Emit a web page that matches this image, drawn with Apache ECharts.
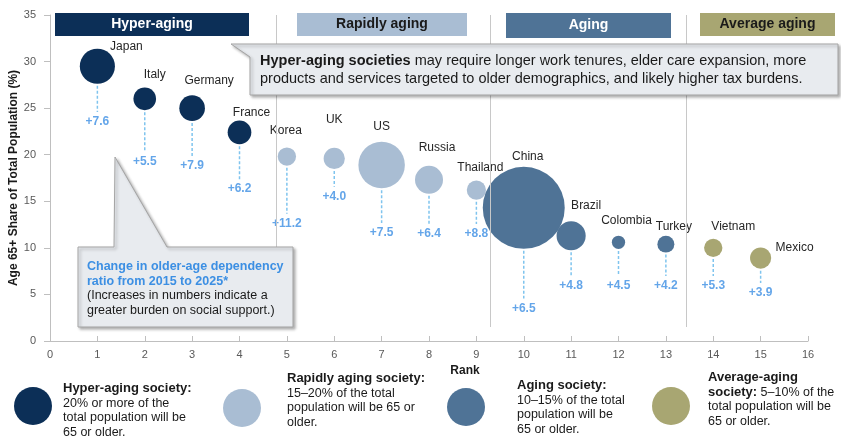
<!DOCTYPE html>
<html>
<head>
<meta charset="UTF-8">
<title>Aging societies</title>
<script src="https://cdn.jsdelivr.net/npm/echarts@6/dist/echarts.min.js"></script>
<style>
  html, body { margin: 0; padding: 0; background: #fff; }
  #chart { width: 841px; height: 438px; }
</style>
</head>
<body>
<div id="chart"></div>
<script>
// data
var countries = ['Japan', 'Italy', 'Germany', 'France', 'Korea', 'UK', 'US', 'Russia', 'Thailand',
                 'China', 'Brazil', 'Colombia', 'Turkey', 'Vietnam', 'Mexico'];
var rank = [1, 2, 3, 4, 5, 6, 7, 8, 9, 10, 11, 12, 13, 14, 15];
var share65 = [29.5, 26.0, 25.0, 22.4, 19.8, 19.6, 18.9, 17.3, 16.2, 14.3, 11.3, 10.6, 10.4, 10.0, 8.9];
var bubbleValue = [77, 32, 41, 35, 21, 28, 135, 49, 23, 420, 53, 11, 18, 21, 28]; // relative population
var ratioChange = [7.6, 5.5, 7.9, 6.2, 11.2, 4.0, 7.5, 6.4, 8.8, 6.5, 4.8, 4.5, 4.2, 5.3, 3.9];
var group = [0, 0, 0, 0, 1, 1, 1, 1, 1, 2, 2, 2, 2, 3, 3];
var groupNames = ['Hyper-aging', 'Rapidly aging', 'Aging', 'Average aging'];
var groupBreaks = [4.78, 9.3, 13.42];

// layout only
var groupColors = ['#0c2f57', '#a9bdd3', '#4f7396', '#a8a672'];
var nameOffset = [[29, -20], [10, -24], [17, -27], [12, -20], [-1, -26], [0, -39], [0, -38], [8, -32],
                  [4, -22], [4, -51], [15, -30], [8, -22], [8, -17], [20, -21], [34, -10]];
var deltaAt = [23.5, 19.2, 18.8, 16.3, 12.6, 15.5, 11.6, 11.5, 11.5, 3.5, 5.9, 5.9, 5.9, 5.9, 5.15];
var FONT = '"Liberation Sans", Arial, sans-serif';
var BLUE = '#3c8fe3';

function diam(v) { return Math.sqrt(v) * 4; }

var chart = echarts.init(document.getElementById('chart'));

// bubbles, one series per group
var bubbleSeries = groupNames.map(function (g, gi) {
  var pts = [];
  for (var i = 0; i < countries.length; i++) {
    if (group[i] !== gi) continue;
    pts.push({
      name: countries[i],
      value: [rank[i], share65[i], bubbleValue[i]],
      label: { offset: nameOffset[i] }
    });
  }
  return {
    type: 'scatter',
    name: g,
    z: 3,
    data: pts,
    symbolSize: function (d) { return diam(d[2]); },
    itemStyle: { color: groupColors[gi], opacity: 1 },
    label: {
      show: true,
      position: 'inside',
      formatter: '{b}',
      color: '#262626',
      fontFamily: FONT,
      fontSize: 12
    }
  };
});

// dashed connectors from bubble to the change label
var connectorData = [];
var deltaData = [];
for (var i = 0; i < countries.length; i++) {
  connectorData.push([rank[i], share65[i], bubbleValue[i], deltaAt[i]]);
  deltaData.push({ value: [rank[i], deltaAt[i]], delta: ratioChange[i] });
}

var option = {
  animation: false,
  backgroundColor: '#fff',
  textStyle: { fontFamily: FONT },
  grid: { left: 50, right: 33, top: 15, bottom: 97, containLabel: false, outerBoundsMode: 'none' },
  xAxis: {
    type: 'value', min: 0, max: 16, interval: 1,
    name: 'Rank', nameLocation: 'middle', nameGap: 24, nameMoveOverlap: false,
    nameTextStyle: { fontWeight: 'bold', fontSize: 12, color: '#1a1a1a', padding: [0, 0, 0, 72] },
    axisLine: { lineStyle: { color: '#bfbfbf' } },
    axisTick: { show: true, inside: true, length: 5, lineStyle: { color: '#bfbfbf' } },
    axisLabel: { color: '#595959', fontSize: 11, margin: 8 },
    splitLine: { show: false }
  },
  yAxis: {
    type: 'value', min: 0, max: 35, interval: 5,
    name: 'Age 65+ Share of Total Population (%)', nameLocation: 'middle', nameGap: 30,
    nameMoveOverlap: false,
    nameTextStyle: { fontWeight: 'bold', fontSize: 12, color: '#1a1a1a' },
    axisLine: { show: true, lineStyle: { color: '#bfbfbf' } },
    axisTick: { show: true, length: 6, lineStyle: { color: '#bfbfbf' } },
    axisLabel: { color: '#595959', fontSize: 11, margin: 14 },
    splitLine: { show: false }
  },
  series: [
    {
      type: 'custom',
      z: 2,
      silent: true,
      data: connectorData,
      renderItem: function (params, api) {
        var c = api.coord([api.value(0), api.value(1)]);
        var l = api.coord([api.value(0), api.value(3)]);
        var y0 = c[1] + diam(api.value(2)) / 2 + 2;
        var y1 = l[1] - 10;
        return {
          type: 'line',
          shape: { x1: c[0], y1: y0, x2: c[0], y2: y1 },
          style: { stroke: '#7fc4ee', lineWidth: 1.5, lineDash: [3, 2] }
        };
      },
      markLine: {
        silent: true,
        symbol: 'none',
        label: { show: false },
        lineStyle: { color: '#c8c8c8', type: 'solid', width: 1 },
        data: groupBreaks.map(function (b) {
          return [{ coord: [b, 1.5] }, { coord: [b, 35] }];
        })
      }
    },
    {
      type: 'scatter',
      z: 4,
      silent: true,
      symbolSize: 0,
      data: deltaData,
      label: {
        show: true,
        position: 'inside',
        formatter: function (p) { return '+' + p.data.delta.toFixed(1); },
        color: BLUE,
        fontWeight: 'bold',
        fontSize: 12,
        fontFamily: FONT
      }
    }
  ].concat(bubbleSeries),
  graphic: []
};

// group headers
var headers = [
  { x: 55, w: 194, h: 23, fill: groupColors[0], color: '#fff' },
  { x: 297, w: 170, h: 23, fill: groupColors[1], color: '#1a1a1a' },
  { x: 506, w: 165, h: 25, fill: groupColors[2], color: '#fff' },
  { x: 700, w: 135, h: 23, fill: groupColors[3], color: '#1a1a1a' }
];
headers.forEach(function (h, i) {
  option.graphic.push({
    type: 'rect', z: 10,
    shape: { x: h.x, y: 13, width: h.w, height: h.h },
    style: { fill: h.fill }
  });
  option.graphic.push({
    type: 'text', z: 11,
    style: {
      text: groupNames[i], x: h.x + h.w / 2, y: 13 + h.h / 2,
      align: 'center', verticalAlign: 'middle',
      fill: h.color, font: 'bold 14px ' + FONT
    }
  });
});

// callout 1
option.graphic.push({
  type: 'polygon', z: 20,
  shape: { points: [[262, 44], [838, 44], [838, 95], [250, 95], [250, 57], [231, 44]] },
  style: { fill: '#e8ebef', stroke: '#a5a5a5', lineWidth: 1,
           shadowBlur: 3, shadowOffsetX: 2, shadowOffsetY: 2, shadowColor: 'rgba(0,0,0,0.3)' }
});
option.graphic.push({
  type: 'text', z: 21,
  style: {
    x: 260, y: 52,
    text: '{b|Hyper-aging societies} may require longer work tenures, elder care expansion, more\nproducts and services targeted to older demographics, and likely higher tax burdens.',
    fill: '#1a1a1a', fontSize: 14.5, fontFamily: FONT, lineHeight: 18,
    rich: { b: { fontWeight: 'bold', fontSize: 14.5, fontFamily: FONT, fill: '#1a1a1a', lineHeight: 18 } }
  }
});

// callout 2
option.graphic.push({
  type: 'polygon', z: 20,
  shape: { points: [[78, 247], [114, 247], [115, 157], [167, 247], [293, 247], [293, 327], [78, 327]] },
  style: { fill: '#e8ebef', stroke: '#a5a5a5', lineWidth: 1,
           shadowBlur: 3, shadowOffsetX: 2, shadowOffsetY: 2, shadowColor: 'rgba(0,0,0,0.3)' }
});
option.graphic.push({
  type: 'text', z: 21,
  style: {
    x: 87, y: 259,
    text: '{bl|Change in older-age dependency}\n{bl|ratio from 2015 to 2025*}\n(Increases in numbers indicate a\ngreater burden on social support.)',
    fill: '#1a1a1a', fontSize: 12.5, fontFamily: FONT, lineHeight: 14.7,
    rich: { bl: { fontWeight: 'bold', fill: BLUE, fontSize: 12.5, fontFamily: FONT, lineHeight: 14.7 } }
  }
});

// bottom key
var keys = [
  { cx: 33, cy: 406, tx: 63, ty: 381, text: '{b|Hyper-aging society:}\n20% or more of the\ntotal population will be\n65 or older.' },
  { cx: 242, cy: 408, tx: 287, ty: 371, text: '{b|Rapidly aging society:}\n15\u201320% of the total\npopulation will be 65 or\nolder.' },
  { cx: 466, cy: 407, tx: 517, ty: 378, text: '{b|Aging society:}\n10\u201315% of the total\npopulation will be\n65 or older.' },
  { cx: 671, cy: 406, tx: 708, ty: 370, text: '{b|Average-aging}\n{b|society:} 5\u201310% of the\ntotal population will be\n65 or older.' }
];
keys.forEach(function (k, i) {
  option.graphic.push({
    type: 'circle', z: 10,
    shape: { cx: k.cx, cy: k.cy, r: 19 },
    style: { fill: groupColors[i] }
  });
  option.graphic.push({
    type: 'text', z: 10,
    style: {
      x: k.tx, y: k.ty, text: k.text,
      fill: '#1a1a1a', fontSize: 12.5, fontFamily: FONT, lineHeight: 14.7,
      rich: { b: { fontWeight: 'bold', fontSize: 13, fontFamily: FONT, fill: '#1a1a1a', lineHeight: 14.7 } }
    }
  });
});

chart.setOption(option);
window.addEventListener('resize', function () { chart.resize(); });
</script>
</body>
</html>
